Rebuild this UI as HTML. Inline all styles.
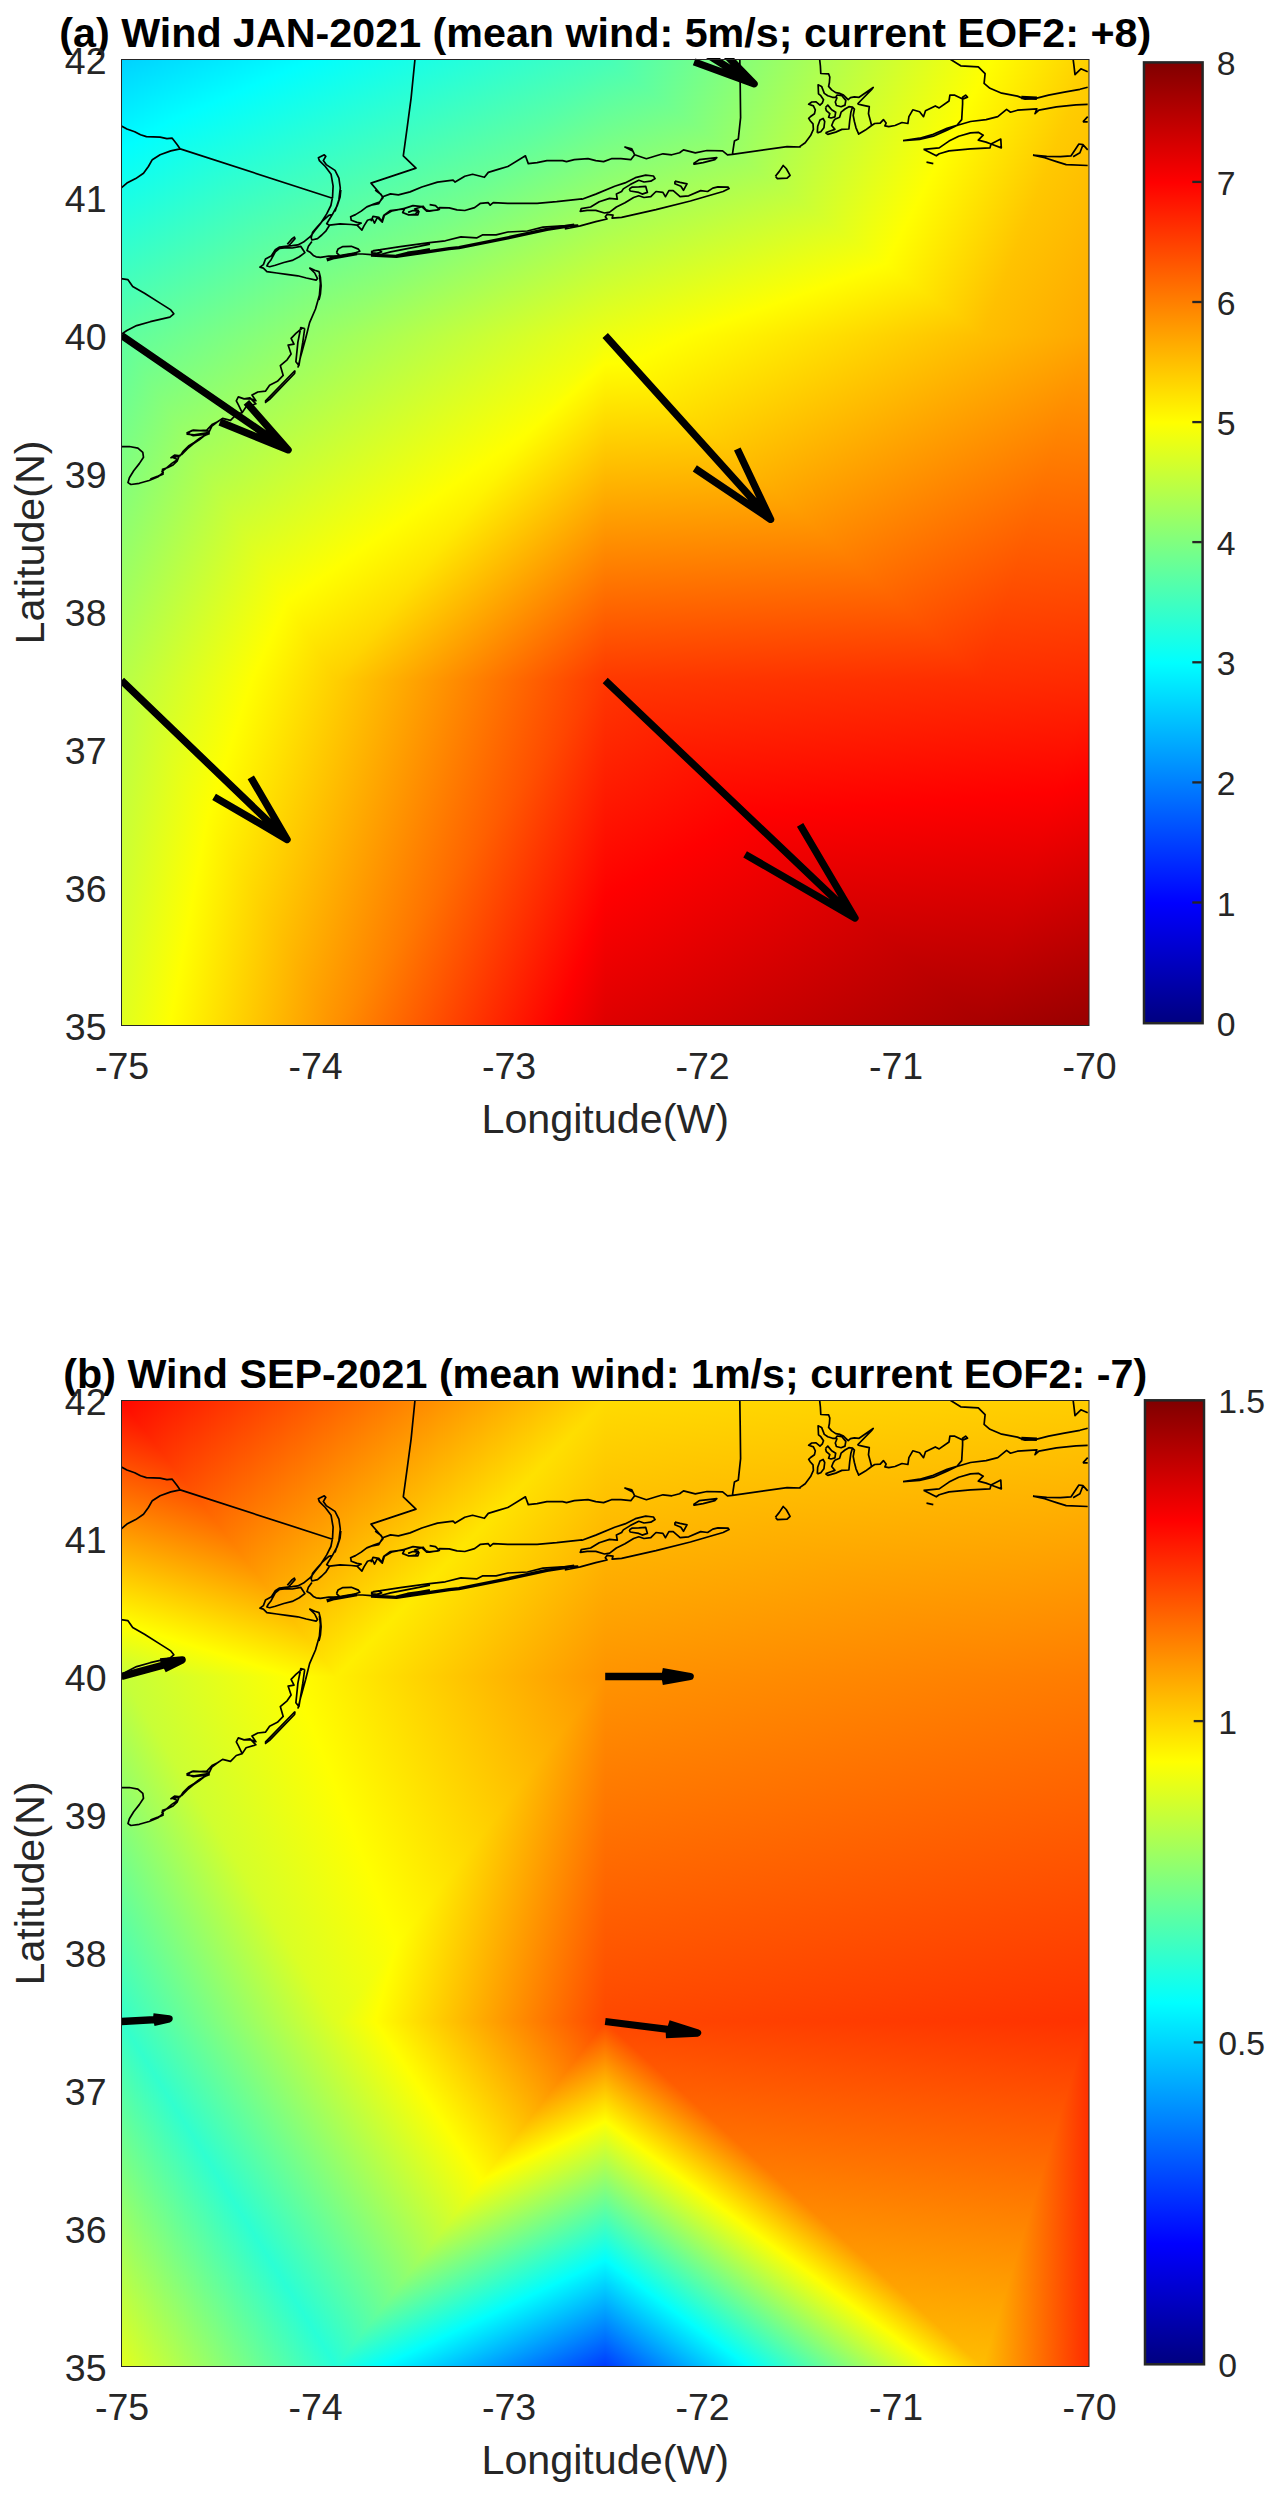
<!DOCTYPE html>
<html><head><meta charset="utf-8"><title>Wind</title>
<style>html,body{margin:0;padding:0;background:#fff}svg{display:block}text{font-family:"Liberation Sans",sans-serif;fill:#262626}</style></head>
<body><svg width="1279" height="2500" viewBox="0 0 1279 2500">
<defs><linearGradient id="jet"><stop offset="0" stop-color="#000080"/><stop offset="0.125" stop-color="#0000ff"/><stop offset="0.375" stop-color="#00ffff"/><stop offset="0.625" stop-color="#ffff00"/><stop offset="0.875" stop-color="#ff0000"/><stop offset="1" stop-color="#800000"/></linearGradient></defs>
<rect width="1279" height="2500" fill="#fff"/>
<defs><linearGradient id="a0" href="#jet" gradientUnits="userSpaceOnUse" x1="-742.2" y1="741.3" x2="750.2" y2="1011.3"/>
<linearGradient id="a1" href="#jet" gradientUnits="userSpaceOnUse" x1="-806.4" y1="451.6" x2="834.5" y2="978.5"/>
<linearGradient id="a2" href="#jet" gradientUnits="userSpaceOnUse" x1="-791.3" y1="404.6" x2="849.6" y2="931.5"/>
<linearGradient id="a3" href="#jet" gradientUnits="userSpaceOnUse" x1="-582.5" y1="483.1" x2="756.0" y2="1004.1"/>
<linearGradient id="a4" href="#jet" gradientUnits="userSpaceOnUse" x1="-787.7" y1="-1783.2" x2="906.4" y2="1221.5"/>
<linearGradient id="a5" href="#jet" gradientUnits="userSpaceOnUse" x1="691.0" y1="-1494.6" x2="881.4" y2="1135.0"/>
<linearGradient id="a6" href="#jet" gradientUnits="userSpaceOnUse" x1="851.4" y1="-1506.2" x2="1041.8" y2="1123.4"/>
<linearGradient id="a7" href="#jet" gradientUnits="userSpaceOnUse" x1="366.6" y1="-1085.9" x2="1110.1" y2="1075.0"/>
<linearGradient id="a8" href="#jet" gradientUnits="userSpaceOnUse" x1="-652.4" y1="180.7" x2="847.0" y2="863.1"/>
<linearGradient id="a9" href="#jet" gradientUnits="userSpaceOnUse" x1="-368.5" y1="-446.4" x2="770.6" y2="1167.1"/>
<linearGradient id="a10" href="#jet" gradientUnits="userSpaceOnUse" x1="-260.9" y1="-522.4" x2="878.2" y2="1091.1"/>
<linearGradient id="a11" href="#jet" gradientUnits="userSpaceOnUse" x1="-48.6" y1="-64.3" x2="757.3" y2="835.3"/>
<linearGradient id="a12" href="#jet" gradientUnits="userSpaceOnUse" x1="676.9" y1="-653.2" x2="748.8" y2="965.2"/>
<linearGradient id="a13" href="#jet" gradientUnits="userSpaceOnUse" x1="153.3" y1="-903.7" x2="1145.5" y2="1006.1"/>
<linearGradient id="a14" href="#jet" gradientUnits="userSpaceOnUse" x1="280.3" y1="-969.6" x2="1272.5" y2="940.2"/>
<linearGradient id="a15" href="#jet" gradientUnits="userSpaceOnUse" x1="882.1" y1="-1654.0" x2="1098.5" y2="1148.5"/>
<linearGradient id="a16" href="#jet" gradientUnits="userSpaceOnUse" x1="-200.9" y1="-420.9" x2="690.3" y2="1081.8"/>
<linearGradient id="a17" href="#jet" gradientUnits="userSpaceOnUse" x1="-12.7" y1="-495.7" x2="658.4" y2="1070.0"/>
<linearGradient id="a18" href="#jet" gradientUnits="userSpaceOnUse" x1="123.5" y1="-554.1" x2="794.6" y2="1011.6"/>
<linearGradient id="a19" href="#jet" gradientUnits="userSpaceOnUse" x1="169.2" y1="-466.9" x2="827.2" y2="882.4"/>
<linearGradient id="a20" href="#jet" gradientUnits="userSpaceOnUse" x1="424.0" y1="-614.7" x2="953.7" y2="866.0"/>
<linearGradient id="a21" href="#jet" gradientUnits="userSpaceOnUse" x1="-116.3" y1="-353.9" x2="1550.1" y2="511.6"/>
<linearGradient id="a22" href="#jet" gradientUnits="userSpaceOnUse" x1="-82.1" y1="-419.9" x2="1584.4" y2="445.6"/>
<linearGradient id="a23" href="#jet" gradientUnits="userSpaceOnUse" x1="-1148.6" y1="-1255.7" x2="2041.2" y2="915.9"/><clipPath id="ca"><rect x="121.5" y="59.5" width="967.5" height="966.0"/></clipPath></defs>
<g clip-path="url(#ca)"><rect x="121.5" y="59.5" width="967.5" height="966.0" fill="#ffa000"/><g shape-rendering="crispEdges"><polygon points="121.3,679.8 121.1,1026.1 336.8,1025.9" fill="url(#a0)"/>
<polygon points="121.0,680.1 336.5,1026.2 336.7,679.9" fill="url(#a1)"/>
<polygon points="605.8,680.1 335.9,679.9 336.0,1026.2" fill="url(#a2)"/>
<polygon points="605.5,679.8 335.7,1025.9 605.7,1026.1" fill="url(#a3)"/>
<polygon points="604.9,679.9 604.7,1026.0 983.2,1025.8" fill="url(#a4)"/>
<polygon points="604.6,680.2 982.9,1026.1 983.1,680.0" fill="url(#a5)"/>
<polygon points="1089.4,679.9 982.4,679.8 982.5,1026.2" fill="url(#a6)"/>
<polygon points="1089.1,679.8 982.2,1026.1 1089.2,1026.2" fill="url(#a7)"/>
<polygon points="121.3,334.8 121.1,681.1 336.8,680.9" fill="url(#a8)"/>
<polygon points="121.0,335.1 336.5,681.2 336.7,334.9" fill="url(#a9)"/>
<polygon points="605.8,335.1 335.9,334.9 336.0,681.2" fill="url(#a10)"/>
<polygon points="605.5,334.8 335.7,680.9 605.7,681.1" fill="url(#a11)"/>
<polygon points="604.9,334.9 604.7,681.0 983.2,680.8" fill="url(#a12)"/>
<polygon points="604.6,335.2 982.9,681.1 983.1,335.0" fill="url(#a13)"/>
<polygon points="1089.4,334.9 982.4,334.8 982.5,681.2" fill="url(#a14)"/>
<polygon points="1089.1,334.8 982.2,681.1 1089.2,681.2" fill="url(#a15)"/>
<polygon points="121.2,58.8 121.1,336.1 336.9,335.9" fill="url(#a16)"/>
<polygon points="120.9,59.1 336.6,336.2 336.7,58.9" fill="url(#a17)"/>
<polygon points="605.9,59.2 335.8,59.0 336.0,336.1" fill="url(#a18)"/>
<polygon points="605.6,58.9 335.7,335.8 605.7,336.0" fill="url(#a19)"/>
<polygon points="604.9,58.9 604.7,335.9 983.3,335.7" fill="url(#a20)"/>
<polygon points="604.6,59.3 983.0,336.1 983.2,59.1" fill="url(#a21)"/>
<polygon points="1089.4,58.9 982.3,58.8 982.5,336.2" fill="url(#a22)"/>
<polygon points="1089.1,58.8 982.2,336.1 1089.3,336.2" fill="url(#a23)"/></g>
<g fill="none" stroke="#000" stroke-width="1.7" stroke-linejoin="round"><path d="M121.0 125.8L126.9 129.0L134.7 131.7L140.5 134.8L146.4 136.6L160.1 137.2L166.9 138.7L172.2 138.2L176.7 144.0L180.2 148.9M180.2 148.9L170.8 150.9L160.1 154.8L152.3 159.7L148.4 166.5L143.5 173.3L135.7 178.6L126.9 183.1L121.0 188.0M180.2 148.9L332.5 198.2M332.5 198.2L333.1 186.1L331.1 174.3L325.3 166.5L319.4 160.6L318.4 157.7L324.3 154.8L325.8 156.3L323.3 160.6L326.2 164.6L335.0 170.4L338.9 178.2L340.3 188.0L338.9 199.7L335.0 211.5M332.3 198.4L330.9 205.5L326.7 213.9L320.4 223.8L314.7 230.8L310.5 236.4L303.5 242.1L297.8 244.9L292.2 245.6L285.2 246.3L279.6 247.0L275.3 249.8L271.1 256.1L265.5 259.0L263.4 264.6L259.9 267.1L263.4 268.1L266.9 271.6L276.7 273.0L286.6 274.4L297.8 275.8L306.3 278.0L316.1 280.1L317.5 278.7L314.7 273.0L309.8 268.1L314.7 270.2L319.0 271.6L320.4 277.3L321.1 285.7L320.4 294.1L319.0 300.0M340.8 190.0L340.1 197.0L337.3 205.5L332.3 214.6L328.8 220.3L326.7 223.8L329.5 225.2L326.0 230.8L321.8 235.0L317.5 238.6L311.9 240.0L311.2 237.8L312.6 232.2L317.5 226.6L323.2 220.3L328.8 215.3L332.3 214.6M329.5 225.2L340.1 223.8L351.3 224.5L357.0 225.2L361.9 230.1L364.0 225.9L367.5 220.3L372.4 218.8L374.5 223.1L377.4 217.4L382.3 222.1L384.4 215.3L392.1 210.8L404.8 208.3L402.7 212.5L409.0 215.0L415.4 214.2L418.2 210.4L414.6 209.0L423.1 206.2L425.9 209.7L430.0 211.1M268.3 263.2L271.1 259.7L275.3 251.9L279.6 248.4L286.6 247.7L292.2 248.0L300.7 246.3L303.5 250.5L304.9 252.6L299.3 256.8L292.2 260.4L283.8 262.5L275.3 265.3L269.7 266.7L266.9 266.0L268.3 263.2M287.3 244.2L292.2 238.6L294.3 237.1L295.0 238.6L290.8 243.5L288.7 245.6M311.9 241.4L308.4 246.3L307.0 250.5L310.5 252.6L313.3 255.4L316.1 256.8L320.4 257.3L328.8 256.1L340.1 256.1L351.3 254.0L362.6 254.0L371.0 254.7L382.3 254.0L390.7 251.9L404.8 249.1L418.9 246.3L430.0 244.2M336.5 252.6L338.0 249.1L342.9 246.6L351.3 246.3L358.4 249.1L359.8 251.2L354.1 253.3L345.7 255.4L340.1 256.1L336.5 252.6M371.0 252.6L373.8 250.5L378.8 249.8L381.6 251.9L376.7 253.3L371.0 252.6M357.0 225.2L361.2 223.1L357.0 222.4L351.3 220.3L350.6 216.7L355.5 214.6L361.2 211.1L366.8 206.9L373.8 204.1L379.5 202.0L383.0 197.7L380.9 194.2L376.7 191.4L375.2 190.0M415.0 59.0L411.1 98.1L407.2 127.4L403.3 155.8L416.0 168.1L371.0 183.1L382.7 196.8L378.8 203.6L371.0 205.2M382.7 196.8L390.5 193.9L398.4 194.8L410.1 191.9L421.8 187.0L437.5 182.1L453.1 180.2L455.1 182.1L464.8 176.3L472.6 174.3L484.4 177.3L488.3 172.4L498.1 169.4L507.8 166.5L525.4 155.8L528.3 163.6L537.1 162.6L546.9 160.6L562.6 160.6L566.5 161.6L574.3 159.7L588.0 158.7L595.8 160.6L603.6 161.6L611.4 158.7L621.0 158.7M371.0 221.2L373.0 216.3L378.8 217.3L381.8 221.2L383.7 215.4L390.5 210.5L402.3 209.1L413.0 205.6L421.8 206.6L426.7 211.1L438.4 209.9L439.4 207.6L449.2 207.9L457.0 209.9L464.8 210.5L474.6 207.6L480.5 203.3L488.3 202.7L490.2 205.2L493.2 202.7L507.8 203.3L537.1 203.3L556.7 201.7L582.1 198.8M402.3 212.4L408.1 214.8L417.9 214.8L418.9 211.5L413.0 210.5L408.1 212.4M429.6 204.6L435.5 205.6L439.4 209.5L429.6 211.1M371.0 251.5L380.8 249.6L400.3 246.6L429.6 242.7L445.3 240.8L460.9 236.9L476.6 237.9L482.4 234.9L496.1 234.9L507.8 232.0L527.4 231.0L543.0 227.1L558.6 226.1L578.2 225.1M621.0 158.7L630.8 159.7L634.7 154.8L631.8 148.9L624.9 147.0L632.7 150.9L634.7 154.8L640.5 156.7L646.4 158.7L656.2 155.8L663.0 153.8L671.8 154.8L679.6 152.8L683.5 149.9L695.3 152.8L707.0 150.5L722.6 150.9L727.5 154.8L732.4 154.4L734.4 141.1L738.3 139.1L740.6 117.6L740.2 84.4L739.8 59.0M732.4 154.4L787.1 146.6L800.8 147.0M819.6 59.0L820.4 66.0L820.8 73.5L828.6 73.9L829.8 77.0L829.4 82.5L828.6 86.4L831.7 89.9L835.7 92.6L840.0 93.4L843.5 95.0L846.6 98.1L848.2 99.7L850.5 97.7L854.4 96.9L859.1 97.3L873.2 87.5L872.0 89.1L857.5 104.0M799.7 146.6L805.2 142.7L810.6 135.6L813.4 129.4L813.0 123.9L810.2 120.8L808.7 118.4L810.6 116.5L814.5 113.7L815.3 109.8L813.4 105.9L808.7 104.3L811.8 102.0L816.1 101.8L820.0 105.1L822.4 102.8L823.5 99.7L820.8 95.7L818.5 93.8L818.1 84.8L821.6 86.4L824.3 93.4L827.8 95.7L832.5 97.3L835.7 97.3L837.2 95.0L841.9 95.7L845.8 100.4L845.0 105.1L841.1 106.7L836.4 105.5L835.3 102.0L837.2 97.3M825.5 107.5L827.8 105.1L831.7 109.8L835.7 112.2L834.9 116.9L831.0 118.0L828.6 117.2L829.8 113.7L826.3 110.6L825.5 107.5M817.3 132.9L817.7 126.2L820.0 120.0L823.1 118.4L824.7 121.5L823.9 127.8L820.8 131.7L817.3 132.9M825.5 132.9L827.8 134.4L835.7 132.1L841.9 129.4L848.9 129.0L849.7 120.8L850.9 112.2L852.5 107.1L848.9 106.7L845.0 109.0L841.1 112.2L839.6 117.2L834.9 119.2L833.3 121.5L831.7 125.5L834.9 129.4L829.4 131.3L825.5 132.9M852.5 107.1L854.4 109.0L853.2 115.3L854.4 121.5L856.0 127.8L858.7 134.1L865.4 130.1L871.6 125.5L870.4 120.8L868.5 113.7L869.3 106.7L862.2 105.1L857.5 104.0M871.6 125.5L874.7 123.5L880.2 123.1L883.4 119.6L886.1 123.1L884.9 125.8L888.8 126.6L895.0 125.5M693.3 163.6L699.2 159.7L716.8 157.7L714.8 159.7L703.1 162.6L694.3 164.2L693.3 163.6M775.4 176.3L779.3 171.4L783.2 165.5L786.2 168.5L790.1 175.3L787.1 178.2L777.4 178.6L775.4 176.3M582.0 199.2L595.8 194.1L614.7 186.3L625.0 182.9L635.4 177.7L645.7 175.2L653.4 176.0L655.1 178.6L650.8 181.2L644.0 182.0L638.8 180.3L630.2 184.6L623.3 188.9L621.6 191.5L616.4 194.1L617.3 199.2L609.6 198.4L599.2 201.8L590.6 207.0L581.2 208.7L580.3 211.3L587.2 210.4L595.8 210.4L604.4 213.0L609.6 212.1L616.4 207.0L625.0 202.7L633.6 197.5L638.8 195.8L644.0 197.5L650.8 196.7L656.0 191.5L662.9 192.4L665.5 196.7L668.9 190.6L673.2 190.6L680.1 196.7L688.7 195.8L700.7 190.6L707.6 191.5L712.8 188.1L717.9 186.9L728.2 187.2L729.1 188.6L723.1 191.5L690.4 201.0L656.0 209.6L621.6 217.3L612.1 218.2L613.0 215.1L607.0 214.4L605.3 216.8L607.0 219.0L595.8 221.6L580.3 225.9L570.0 228.0L564.8 228.8M629.3 188.9L631.9 187.2L638.8 186.9L645.7 186.3L647.4 192.4L642.2 194.1L638.8 192.4L630.2 191.0L629.3 188.9M674.9 181.2L680.1 182.4L687.0 183.8L685.2 187.2L683.5 190.3L680.9 186.3L674.9 183.8L674.9 181.2M895.0 125.5L902.0 122.5L907.9 123.5L908.9 116.7L912.8 109.8L919.6 111.8L923.5 116.7L925.5 110.8L935.3 105.9L939.2 107.9L949.0 101.0L949.9 95.2L954.8 95.2L962.6 99.1L967.5 97.1L965.6 95.2L962.6 97.1L962.6 104.0L961.7 119.6L956.8 125.5L970.5 121.5L986.1 119.6L997.8 116.7L1006.6 109.4L1010.5 112.2L1017.4 110.2L1036.9 108.8L1035.0 113.7L1038.9 110.2L1056.5 106.9L1076.0 104.9L1087.7 104.3M949.9 59.0L960.7 65.8L978.3 66.8L985.1 73.7L984.1 83.4L990.0 88.3L1001.7 93.2L1017.4 96.1L1025.2 99.1L1036.9 98.1L1048.6 95.2L1064.3 92.2L1079.9 89.3L1087.7 87.3M1073.1 59.0L1074.1 66.8L1075.0 74.6L1080.9 68.8L1087.7 71.7M903.0 140.7L919.6 138.2L933.3 134.3L947.0 128.4L957.8 125.1L947.0 130.3L933.3 136.2L919.6 139.5L903.0 140.7M923.5 149.3L936.3 155.8L939.2 153.8L949.0 150.9L970.5 148.9L990.0 147.9L991.0 144.0L986.1 142.1L978.3 140.1L983.2 135.2L978.3 132.3L970.5 132.9L958.7 136.2L949.0 141.1L939.2 147.9L923.5 149.3M991.0 144.0L1000.8 139.1L1001.3 147.9L991.0 144.0M926.5 162.2L933.3 163.6M1033.0 155.2L1044.7 157.7L1056.5 161.6L1066.2 164.6L1087.7 165.5M1033.0 155.2L1046.7 156.3L1060.4 156.7L1071.1 155.8L1078.9 144.0L1082.9 144.6L1087.7 149.9M1073.1 156.7L1079.9 152.8L1082.9 145.0M1082.9 121.9L1087.7 116.7M1082.9 121.9L1087.7 121.9M121.0 278.7L127.8 279.6L132.7 286.5L144.5 293.3L160.1 303.1L170.8 309.9L173.8 313.8L169.9 317.2L150.3 321.7L136.6 325.6L126.9 330.5L121.0 334.4M319.4 274.8L320.4 283.5L319.4 295.3L315.5 309.0L309.6 322.6L305.7 338.3L300.8 355.9L297.9 367.6M304.7 328.5L300.8 327.5L297.9 342.2L295.9 361.7L298.9 365.6L302.8 342.2L304.7 328.5M301.8 328.5L295.9 333.4L291.1 338.3L294.0 344.1L288.1 345.1L291.1 353.9L287.1 359.8L280.3 365.6L283.2 375.4L277.4 381.3L269.6 385.2L265.6 391.1L257.8 392.0L252.0 395.0L255.9 400.8L251.0 398.9L244.1 398.9L238.3 396.9L236.3 400.8L238.3 404.7L242.2 412.6L236.3 414.5L230.5 420.4L222.6 418.4L216.8 422.3L211.9 426.2L209.0 432.1L205.1 435.0L199.2 439.9L193.3 443.8L187.5 448.7L181.6 454.6L177.7 456.5L172.8 457.5L177.7 459.5L171.8 463.4L166.0 468.3L162.0 471.2L163.0 474.1L158.1 476.1L150.3 479.0M295.0 370.5L265.6 400.8L265.6 402.4L269.6 399.3L294.6 373.5L295.0 370.5M186.5 433.1L193.3 430.1L209.0 431.1L207.0 434.1L193.3 435.6L186.5 433.1M244.1 398.9L250.0 397.9L255.9 403.8L246.1 406.7L242.2 412.6M121.0 446.7L129.4 446.5L137.9 448.1L142.8 452.4L143.5 457.3L139.3 463.6L133.7 470.7L129.4 477.7L128.0 482.6L130.9 484.5L139.3 483.3L149.1 480.5L157.6 477.0L163.2 472.8L162.5 469.3L167.4 467.8L173.1 465.0L177.3 460.8L178.7 457.3L176.6 455.9L171.0 457.7L174.5 455.2L180.1 455.9L182.9 451.7L188.5 446.0L194.2 442.5L199.8 438.3L205.4 435.2L209.7 433.4M209.7 433.4L208.3 432.7L194.2 434.8L187.1 434.1L191.4 430.6L199.8 430.6L206.8 430.1L212.5 424.2L218.1 421.4"/><path d="M326.7 259.9L334.4 257.5L348.5 255.0L357.0 253.6M396.4 256.1L407.6 253.3L418.9 251.6L430.0 249.8M371.0 255.1L396.4 256.4L449.2 248.6L459.0 247.6L507.8 237.9L546.9 229.4L574.3 225.1M1021.3 97.5L1036.9 98.3" stroke-width="3.4"/></g>
</g>
<defs><clipPath id="ka"><rect x="121.5" y="57.9" width="967.5" height="967.6"/></clipPath></defs>
<g clip-path="url(#ka)" fill="none" stroke="#000" stroke-width="7.3" stroke-linejoin="round"><path d="M121.5 335.5L288.1 449.9M246.4 402.3L288.1 449.9L219.9 422.0"/><path d="M605.2 335.5L770.6 519.4M737.3 449.0L770.6 519.4L694.8 468.4"/><path d="M121.5 680.5L287.1 839.5M250.8 777.3L287.1 839.5L214.1 796.8"/><path d="M605.2 680.5L855.0 918.0M800.1 824.9L855.0 918.0L745.1 854.3"/><path d="M605.2 -9.5L754.1 83.9M715.8 44.3L754.1 83.9L694.1 61.9"/></g>
<rect x="121.5" y="59.5" width="967.5" height="966.0" fill="none" stroke="#262626" stroke-width="1"/>
<text x="605.25" y="47.4" text-anchor="middle" font-weight="bold" font-size="41.25" style="fill:#000">(a) Wind JAN-2021 (mean wind: 5m/s; current EOF2: +8)</text>
<text x="106.5" y="1039.6" text-anchor="end" font-size="37.5">35</text>
<text x="106.5" y="901.6" text-anchor="end" font-size="37.5">36</text>
<text x="106.5" y="763.6" text-anchor="end" font-size="37.5">37</text>
<text x="106.5" y="625.6" text-anchor="end" font-size="37.5">38</text>
<text x="106.5" y="487.6" text-anchor="end" font-size="37.5">39</text>
<text x="106.5" y="349.6" text-anchor="end" font-size="37.5">40</text>
<text x="106.5" y="211.6" text-anchor="end" font-size="37.5">41</text>
<text x="106.5" y="73.6" text-anchor="end" font-size="37.5">42</text>
<text x="122.0" y="1078.7" text-anchor="middle" font-size="37.5">-75</text>
<text x="315.5" y="1078.7" text-anchor="middle" font-size="37.5">-74</text>
<text x="509.0" y="1078.7" text-anchor="middle" font-size="37.5">-73</text>
<text x="702.5" y="1078.7" text-anchor="middle" font-size="37.5">-72</text>
<text x="896.0" y="1078.7" text-anchor="middle" font-size="37.5">-71</text>
<text x="1089.5" y="1078.7" text-anchor="middle" font-size="37.5">-70</text>
<text x="605.25" y="1133.3" text-anchor="middle" font-size="41.25">Longitude(W)</text>
<text transform="translate(44.2 542.5) rotate(-90)" text-anchor="middle" font-size="41.25">Latitude(N)</text>
<rect x="1144.0" y="62.4" width="58.6" height="960.8" fill="url(#jetva)" stroke="#262626" stroke-width="2.5"/>
<defs><linearGradient id="jetva" href="#jet" gradientUnits="userSpaceOnUse" x1="0" y1="1023.2" x2="0" y2="62.4"/></defs>
<text x="1216.8" y="1035.5" font-size="33.75">0</text>
<line x1="1192.3" y1="902.5" x2="1201.8" y2="902.5" stroke="#262626" stroke-width="2.3"/>
<text x="1216.8" y="915.5" font-size="33.75">1</text>
<line x1="1192.3" y1="782.4" x2="1201.8" y2="782.4" stroke="#262626" stroke-width="2.3"/>
<text x="1216.8" y="795.4" font-size="33.75">2</text>
<line x1="1192.3" y1="662.3" x2="1201.8" y2="662.3" stroke="#262626" stroke-width="2.3"/>
<text x="1216.8" y="675.3" font-size="33.75">3</text>
<line x1="1192.3" y1="542.1" x2="1201.8" y2="542.1" stroke="#262626" stroke-width="2.3"/>
<text x="1216.8" y="555.1" font-size="33.75">4</text>
<line x1="1192.3" y1="422.1" x2="1201.8" y2="422.1" stroke="#262626" stroke-width="2.3"/>
<text x="1216.8" y="435.1" font-size="33.75">5</text>
<line x1="1192.3" y1="302.0" x2="1201.8" y2="302.0" stroke="#262626" stroke-width="2.3"/>
<text x="1216.8" y="315.0" font-size="33.75">6</text>
<line x1="1192.3" y1="181.9" x2="1201.8" y2="181.9" stroke="#262626" stroke-width="2.3"/>
<text x="1216.8" y="194.9" font-size="33.75">7</text>
<text x="1216.8" y="74.8" font-size="33.75">8</text>
<defs><linearGradient id="b0" href="#jet" gradientUnits="userSpaceOnUse" x1="611.3" y1="2009.2" x2="-262.1" y2="2515.2"/>
<linearGradient id="b1" href="#jet" gradientUnits="userSpaceOnUse" x1="-156.0" y1="2418.3" x2="724.3" y2="1828.6"/>
<linearGradient id="b2" href="#jet" gradientUnits="userSpaceOnUse" x1="-106.0" y1="2492.9" x2="774.2" y2="1903.2"/>
<linearGradient id="b3" href="#jet" gradientUnits="userSpaceOnUse" x1="615.9" y1="2462.7" x2="401.2" y2="2010.6"/>
<linearGradient id="b4" href="#jet" gradientUnits="userSpaceOnUse" x1="582.7" y1="2450.9" x2="848.0" y2="2094.2"/>
<linearGradient id="b5" href="#jet" gradientUnits="userSpaceOnUse" x1="630.0" y1="4116.6" x2="923.8" y2="1552.2"/>
<linearGradient id="b6" href="#jet" gradientUnits="userSpaceOnUse" x1="789.1" y1="4134.8" x2="1082.9" y2="1570.5"/>
<linearGradient id="b7" href="#jet" gradientUnits="userSpaceOnUse" x1="470.6" y1="2244.8" x2="1215.5" y2="2253.4"/>
<linearGradient id="b8" href="#jet" gradientUnits="userSpaceOnUse" x1="-337.1" y1="2183.5" x2="664.7" y2="1660.1"/>
<linearGradient id="b9" href="#jet" gradientUnits="userSpaceOnUse" x1="-1279.2" y1="2393.5" x2="1291.6" y2="1391.1"/>
<linearGradient id="b10" href="#jet" gradientUnits="userSpaceOnUse" x1="-1257.9" y1="2448.1" x2="1312.9" y2="1445.6"/>
<linearGradient id="b11" href="#jet" gradientUnits="userSpaceOnUse" x1="-325.9" y1="1674.2" x2="859.1" y2="2001.3"/>
<linearGradient id="b12" href="#jet" gradientUnits="userSpaceOnUse" x1="20.5" y1="-1580.4" x2="924.5" y2="2855.9"/>
<linearGradient id="b13" href="#jet" gradientUnits="userSpaceOnUse" x1="104.0" y1="-1637.2" x2="1085.5" y2="2833.1"/>
<linearGradient id="b14" href="#jet" gradientUnits="userSpaceOnUse" x1="257.8" y1="-1671.0" x2="1239.3" y2="2799.3"/>
<linearGradient id="b15" href="#jet" gradientUnits="userSpaceOnUse" x1="304.3" y1="-1704.8" x2="1240.1" y2="2805.6"/>
<linearGradient id="b16" href="#jet" gradientUnits="userSpaceOnUse" x1="14.2" y1="2163.0" x2="272.7" y2="1327.0"/>
<linearGradient id="b17" href="#jet" gradientUnits="userSpaceOnUse" x1="1029.6" y1="2367.3" x2="25.1" y2="1218.5"/>
<linearGradient id="b18" href="#jet" gradientUnits="userSpaceOnUse" x1="1121.0" y1="2287.4" x2="116.5" y2="1138.6"/>
<linearGradient id="b19" href="#jet" gradientUnits="userSpaceOnUse" x1="-757.1" y1="619.4" x2="1123.3" y2="2045.3"/>
<linearGradient id="b20" href="#jet" gradientUnits="userSpaceOnUse" x1="237.9" y1="-1110.0" x2="929.5" y2="2669.1"/>
<linearGradient id="b21" href="#jet" gradientUnits="userSpaceOnUse" x1="619.6" y1="-937.9" x2="961.9" y2="2569.6"/>
<linearGradient id="b22" href="#jet" gradientUnits="userSpaceOnUse" x1="779.4" y1="-953.5" x2="1121.7" y2="2554.0"/>
<linearGradient id="b23" href="#jet" gradientUnits="userSpaceOnUse" x1="659.5" y1="-853.1" x2="1203.0" y2="2509.1"/><clipPath id="cb"><rect x="121.5" y="1400.5" width="967.5" height="966.0"/></clipPath></defs>
<g clip-path="url(#cb)"><rect x="121.5" y="1400.5" width="967.5" height="966.0" fill="#ffa000"/><g shape-rendering="crispEdges"><polygon points="121.3,2020.8 121.1,2367.1 336.8,2366.9" fill="url(#b0)"/>
<polygon points="121.0,2021.1 336.5,2367.2 336.7,2020.9" fill="url(#b1)"/>
<polygon points="605.8,2021.1 335.9,2020.9 336.0,2367.2" fill="url(#b2)"/>
<polygon points="605.5,2020.8 335.7,2366.9 605.7,2367.1" fill="url(#b3)"/>
<polygon points="604.9,2020.9 604.7,2367.0 983.2,2366.8" fill="url(#b4)"/>
<polygon points="604.6,2021.2 982.9,2367.1 983.1,2021.0" fill="url(#b5)"/>
<polygon points="1089.4,2020.9 982.4,2020.8 982.5,2367.2" fill="url(#b6)"/>
<polygon points="1089.1,2020.8 982.2,2367.1 1089.2,2367.2" fill="url(#b7)"/>
<polygon points="121.3,1675.8 121.1,2022.1 336.8,2021.9" fill="url(#b8)"/>
<polygon points="121.0,1676.1 336.5,2022.2 336.7,1675.9" fill="url(#b9)"/>
<polygon points="605.8,1676.1 335.9,1675.9 336.0,2022.2" fill="url(#b10)"/>
<polygon points="605.5,1675.8 335.7,2021.9 605.7,2022.1" fill="url(#b11)"/>
<polygon points="604.9,1675.9 604.7,2022.0 983.2,2021.8" fill="url(#b12)"/>
<polygon points="604.6,1676.2 982.9,2022.1 983.1,1676.0" fill="url(#b13)"/>
<polygon points="1089.4,1675.9 982.4,1675.8 982.5,2022.2" fill="url(#b14)"/>
<polygon points="1089.1,1675.8 982.2,2022.1 1089.2,2022.2" fill="url(#b15)"/>
<polygon points="121.2,1399.8 121.1,1677.1 336.9,1676.9" fill="url(#b16)"/>
<polygon points="120.9,1400.1 336.6,1677.2 336.7,1399.9" fill="url(#b17)"/>
<polygon points="605.9,1400.2 335.8,1400.0 336.0,1677.1" fill="url(#b18)"/>
<polygon points="605.6,1399.9 335.7,1676.8 605.7,1677.0" fill="url(#b19)"/>
<polygon points="604.9,1399.9 604.7,1676.9 983.3,1676.7" fill="url(#b20)"/>
<polygon points="604.6,1400.3 983.0,1677.1 983.2,1400.1" fill="url(#b21)"/>
<polygon points="1089.4,1399.9 982.3,1399.8 982.5,1677.2" fill="url(#b22)"/>
<polygon points="1089.1,1399.8 982.2,1677.1 1089.3,1677.2" fill="url(#b23)"/></g>
<g fill="none" stroke="#000" stroke-width="1.7" stroke-linejoin="round"><path d="M121.0 1466.8L126.9 1470.0L134.7 1472.7L140.5 1475.8L146.4 1477.6L160.1 1478.2L166.9 1479.7L172.2 1479.2L176.7 1485.0L180.2 1489.9M180.2 1489.9L170.8 1491.9L160.1 1495.8L152.3 1500.7L148.4 1507.5L143.5 1514.3L135.7 1519.6L126.9 1524.1L121.0 1529.0M180.2 1489.9L332.5 1539.2M332.5 1539.2L333.1 1527.1L331.1 1515.3L325.3 1507.5L319.4 1501.6L318.4 1498.7L324.3 1495.8L325.8 1497.3L323.3 1501.6L326.2 1505.6L335.0 1511.4L338.9 1519.2L340.3 1529.0L338.9 1540.7L335.0 1552.5M332.3 1539.4L330.9 1546.5L326.7 1554.9L320.4 1564.8L314.7 1571.8L310.5 1577.4L303.5 1583.1L297.8 1585.9L292.2 1586.6L285.2 1587.3L279.6 1588.0L275.3 1590.8L271.1 1597.1L265.5 1600.0L263.4 1605.6L259.9 1608.1L263.4 1609.1L266.9 1612.6L276.7 1614.0L286.6 1615.4L297.8 1616.8L306.3 1619.0L316.1 1621.1L317.5 1619.7L314.7 1614.0L309.8 1609.1L314.7 1611.2L319.0 1612.6L320.4 1618.3L321.1 1626.7L320.4 1635.1L319.0 1641.0M340.8 1531.0L340.1 1538.0L337.3 1546.5L332.3 1555.6L328.8 1561.3L326.7 1564.8L329.5 1566.2L326.0 1571.8L321.8 1576.0L317.5 1579.6L311.9 1581.0L311.2 1578.8L312.6 1573.2L317.5 1567.6L323.2 1561.3L328.8 1556.3L332.3 1555.6M329.5 1566.2L340.1 1564.8L351.3 1565.5L357.0 1566.2L361.9 1571.1L364.0 1566.9L367.5 1561.3L372.4 1559.8L374.5 1564.1L377.4 1558.4L382.3 1563.1L384.4 1556.3L392.1 1551.8L404.8 1549.3L402.7 1553.5L409.0 1556.0L415.4 1555.2L418.2 1551.4L414.6 1550.0L423.1 1547.2L425.9 1550.7L430.0 1552.1M268.3 1604.2L271.1 1600.7L275.3 1592.9L279.6 1589.4L286.6 1588.7L292.2 1589.0L300.7 1587.3L303.5 1591.5L304.9 1593.6L299.3 1597.8L292.2 1601.4L283.8 1603.5L275.3 1606.3L269.7 1607.7L266.9 1607.0L268.3 1604.2M287.3 1585.2L292.2 1579.6L294.3 1578.1L295.0 1579.6L290.8 1584.5L288.7 1586.6M311.9 1582.4L308.4 1587.3L307.0 1591.5L310.5 1593.6L313.3 1596.4L316.1 1597.8L320.4 1598.3L328.8 1597.1L340.1 1597.1L351.3 1595.0L362.6 1595.0L371.0 1595.7L382.3 1595.0L390.7 1592.9L404.8 1590.1L418.9 1587.3L430.0 1585.2M336.5 1593.6L338.0 1590.1L342.9 1587.6L351.3 1587.3L358.4 1590.1L359.8 1592.2L354.1 1594.3L345.7 1596.4L340.1 1597.1L336.5 1593.6M371.0 1593.6L373.8 1591.5L378.8 1590.8L381.6 1592.9L376.7 1594.3L371.0 1593.6M357.0 1566.2L361.2 1564.1L357.0 1563.4L351.3 1561.3L350.6 1557.7L355.5 1555.6L361.2 1552.1L366.8 1547.9L373.8 1545.1L379.5 1543.0L383.0 1538.7L380.9 1535.2L376.7 1532.4L375.2 1531.0M415.0 1400.0L411.1 1439.1L407.2 1468.4L403.3 1496.8L416.0 1509.1L371.0 1524.1L382.7 1537.8L378.8 1544.6L371.0 1546.2M382.7 1537.8L390.5 1534.9L398.4 1535.8L410.1 1532.9L421.8 1528.0L437.5 1523.1L453.1 1521.2L455.1 1523.1L464.8 1517.3L472.6 1515.3L484.4 1518.3L488.3 1513.4L498.1 1510.4L507.8 1507.5L525.4 1496.8L528.3 1504.6L537.1 1503.6L546.9 1501.6L562.6 1501.6L566.5 1502.6L574.3 1500.7L588.0 1499.7L595.8 1501.6L603.6 1502.6L611.4 1499.7L621.0 1499.7M371.0 1562.2L373.0 1557.3L378.8 1558.3L381.8 1562.2L383.7 1556.4L390.5 1551.5L402.3 1550.1L413.0 1546.6L421.8 1547.6L426.7 1552.1L438.4 1550.9L439.4 1548.6L449.2 1548.9L457.0 1550.9L464.8 1551.5L474.6 1548.6L480.5 1544.3L488.3 1543.7L490.2 1546.2L493.2 1543.7L507.8 1544.3L537.1 1544.3L556.7 1542.7L582.1 1539.8M402.3 1553.4L408.1 1555.8L417.9 1555.8L418.9 1552.5L413.0 1551.5L408.1 1553.4M429.6 1545.6L435.5 1546.6L439.4 1550.5L429.6 1552.1M371.0 1592.5L380.8 1590.6L400.3 1587.6L429.6 1583.7L445.3 1581.8L460.9 1577.9L476.6 1578.9L482.4 1575.9L496.1 1575.9L507.8 1573.0L527.4 1572.0L543.0 1568.1L558.6 1567.1L578.2 1566.1M621.0 1499.7L630.8 1500.7L634.7 1495.8L631.8 1489.9L624.9 1488.0L632.7 1491.9L634.7 1495.8L640.5 1497.7L646.4 1499.7L656.2 1496.8L663.0 1494.8L671.8 1495.8L679.6 1493.8L683.5 1490.9L695.3 1493.8L707.0 1491.5L722.6 1491.9L727.5 1495.8L732.4 1495.4L734.4 1482.1L738.3 1480.1L740.6 1458.6L740.2 1425.4L739.8 1400.0M732.4 1495.4L787.1 1487.6L800.8 1488.0M819.6 1400.0L820.4 1407.0L820.8 1414.5L828.6 1414.9L829.8 1418.0L829.4 1423.5L828.6 1427.4L831.7 1430.9L835.7 1433.6L840.0 1434.4L843.5 1436.0L846.6 1439.1L848.2 1440.7L850.5 1438.7L854.4 1437.9L859.1 1438.3L873.2 1428.5L872.0 1430.1L857.5 1445.0M799.7 1487.6L805.2 1483.7L810.6 1476.6L813.4 1470.4L813.0 1464.9L810.2 1461.8L808.7 1459.4L810.6 1457.5L814.5 1454.7L815.3 1450.8L813.4 1446.9L808.7 1445.3L811.8 1443.0L816.1 1442.8L820.0 1446.1L822.4 1443.8L823.5 1440.7L820.8 1436.7L818.5 1434.8L818.1 1425.8L821.6 1427.4L824.3 1434.4L827.8 1436.7L832.5 1438.3L835.7 1438.3L837.2 1436.0L841.9 1436.7L845.8 1441.4L845.0 1446.1L841.1 1447.7L836.4 1446.5L835.3 1443.0L837.2 1438.3M825.5 1448.5L827.8 1446.1L831.7 1450.8L835.7 1453.2L834.9 1457.9L831.0 1459.0L828.6 1458.2L829.8 1454.7L826.3 1451.6L825.5 1448.5M817.3 1473.9L817.7 1467.2L820.0 1461.0L823.1 1459.4L824.7 1462.5L823.9 1468.8L820.8 1472.7L817.3 1473.9M825.5 1473.9L827.8 1475.4L835.7 1473.1L841.9 1470.4L848.9 1470.0L849.7 1461.8L850.9 1453.2L852.5 1448.1L848.9 1447.7L845.0 1450.0L841.1 1453.2L839.6 1458.2L834.9 1460.2L833.3 1462.5L831.7 1466.5L834.9 1470.4L829.4 1472.3L825.5 1473.9M852.5 1448.1L854.4 1450.0L853.2 1456.3L854.4 1462.5L856.0 1468.8L858.7 1475.1L865.4 1471.1L871.6 1466.5L870.4 1461.8L868.5 1454.7L869.3 1447.7L862.2 1446.1L857.5 1445.0M871.6 1466.5L874.7 1464.5L880.2 1464.1L883.4 1460.6L886.1 1464.1L884.9 1466.8L888.8 1467.6L895.0 1466.5M693.3 1504.6L699.2 1500.7L716.8 1498.7L714.8 1500.7L703.1 1503.6L694.3 1505.2L693.3 1504.6M775.4 1517.3L779.3 1512.4L783.2 1506.5L786.2 1509.5L790.1 1516.3L787.1 1519.2L777.4 1519.6L775.4 1517.3M582.0 1540.2L595.8 1535.1L614.7 1527.3L625.0 1523.9L635.4 1518.7L645.7 1516.2L653.4 1517.0L655.1 1519.6L650.8 1522.2L644.0 1523.0L638.8 1521.3L630.2 1525.6L623.3 1529.9L621.6 1532.5L616.4 1535.1L617.3 1540.2L609.6 1539.4L599.2 1542.8L590.6 1548.0L581.2 1549.7L580.3 1552.3L587.2 1551.4L595.8 1551.4L604.4 1554.0L609.6 1553.1L616.4 1548.0L625.0 1543.7L633.6 1538.5L638.8 1536.8L644.0 1538.5L650.8 1537.7L656.0 1532.5L662.9 1533.4L665.5 1537.7L668.9 1531.6L673.2 1531.6L680.1 1537.7L688.7 1536.8L700.7 1531.6L707.6 1532.5L712.8 1529.1L717.9 1527.9L728.2 1528.2L729.1 1529.6L723.1 1532.5L690.4 1542.0L656.0 1550.6L621.6 1558.3L612.1 1559.2L613.0 1556.1L607.0 1555.4L605.3 1557.8L607.0 1560.0L595.8 1562.6L580.3 1566.9L570.0 1569.0L564.8 1569.8M629.3 1529.9L631.9 1528.2L638.8 1527.9L645.7 1527.3L647.4 1533.4L642.2 1535.1L638.8 1533.4L630.2 1532.0L629.3 1529.9M674.9 1522.2L680.1 1523.4L687.0 1524.8L685.2 1528.2L683.5 1531.3L680.9 1527.3L674.9 1524.8L674.9 1522.2M895.0 1466.5L902.0 1463.5L907.9 1464.5L908.9 1457.7L912.8 1450.8L919.6 1452.8L923.5 1457.7L925.5 1451.8L935.3 1446.9L939.2 1448.9L949.0 1442.0L949.9 1436.2L954.8 1436.2L962.6 1440.1L967.5 1438.1L965.6 1436.2L962.6 1438.1L962.6 1445.0L961.7 1460.6L956.8 1466.5L970.5 1462.5L986.1 1460.6L997.8 1457.7L1006.6 1450.4L1010.5 1453.2L1017.4 1451.2L1036.9 1449.8L1035.0 1454.7L1038.9 1451.2L1056.5 1447.9L1076.0 1445.9L1087.7 1445.3M949.9 1400.0L960.7 1406.8L978.3 1407.8L985.1 1414.7L984.1 1424.4L990.0 1429.3L1001.7 1434.2L1017.4 1437.1L1025.2 1440.1L1036.9 1439.1L1048.6 1436.2L1064.3 1433.2L1079.9 1430.3L1087.7 1428.3M1073.1 1400.0L1074.1 1407.8L1075.0 1415.6L1080.9 1409.8L1087.7 1412.7M903.0 1481.7L919.6 1479.2L933.3 1475.3L947.0 1469.4L957.8 1466.1L947.0 1471.3L933.3 1477.2L919.6 1480.5L903.0 1481.7M923.5 1490.3L936.3 1496.8L939.2 1494.8L949.0 1491.9L970.5 1489.9L990.0 1488.9L991.0 1485.0L986.1 1483.1L978.3 1481.1L983.2 1476.2L978.3 1473.3L970.5 1473.9L958.7 1477.2L949.0 1482.1L939.2 1488.9L923.5 1490.3M991.0 1485.0L1000.8 1480.1L1001.3 1488.9L991.0 1485.0M926.5 1503.2L933.3 1504.6M1033.0 1496.2L1044.7 1498.7L1056.5 1502.6L1066.2 1505.6L1087.7 1506.5M1033.0 1496.2L1046.7 1497.3L1060.4 1497.7L1071.1 1496.8L1078.9 1485.0L1082.9 1485.6L1087.7 1490.9M1073.1 1497.7L1079.9 1493.8L1082.9 1486.0M1082.9 1462.9L1087.7 1457.7M1082.9 1462.9L1087.7 1462.9M121.0 1619.7L127.8 1620.6L132.7 1627.5L144.5 1634.3L160.1 1644.1L170.8 1650.9L173.8 1654.8L169.9 1658.2L150.3 1662.7L136.6 1666.6L126.9 1671.5L121.0 1675.4M319.4 1615.8L320.4 1624.5L319.4 1636.3L315.5 1650.0L309.6 1663.6L305.7 1679.3L300.8 1696.9L297.9 1708.6M304.7 1669.5L300.8 1668.5L297.9 1683.2L295.9 1702.7L298.9 1706.6L302.8 1683.2L304.7 1669.5M301.8 1669.5L295.9 1674.4L291.1 1679.3L294.0 1685.1L288.1 1686.1L291.1 1694.9L287.1 1700.8L280.3 1706.6L283.2 1716.4L277.4 1722.3L269.6 1726.2L265.6 1732.1L257.8 1733.0L252.0 1736.0L255.9 1741.8L251.0 1739.9L244.1 1739.9L238.3 1737.9L236.3 1741.8L238.3 1745.7L242.2 1753.6L236.3 1755.5L230.5 1761.4L222.6 1759.4L216.8 1763.3L211.9 1767.2L209.0 1773.1L205.1 1776.0L199.2 1780.9L193.3 1784.8L187.5 1789.7L181.6 1795.6L177.7 1797.5L172.8 1798.5L177.7 1800.5L171.8 1804.4L166.0 1809.3L162.0 1812.2L163.0 1815.1L158.1 1817.1L150.3 1820.0M295.0 1711.5L265.6 1741.8L265.6 1743.4L269.6 1740.3L294.6 1714.5L295.0 1711.5M186.5 1774.1L193.3 1771.1L209.0 1772.1L207.0 1775.1L193.3 1776.6L186.5 1774.1M244.1 1739.9L250.0 1738.9L255.9 1744.8L246.1 1747.7L242.2 1753.6M121.0 1787.7L129.4 1787.5L137.9 1789.1L142.8 1793.4L143.5 1798.3L139.3 1804.6L133.7 1811.7L129.4 1818.7L128.0 1823.6L130.9 1825.5L139.3 1824.3L149.1 1821.5L157.6 1818.0L163.2 1813.8L162.5 1810.3L167.4 1808.8L173.1 1806.0L177.3 1801.8L178.7 1798.3L176.6 1796.9L171.0 1798.7L174.5 1796.2L180.1 1796.9L182.9 1792.7L188.5 1787.0L194.2 1783.5L199.8 1779.3L205.4 1776.2L209.7 1774.4M209.7 1774.4L208.3 1773.7L194.2 1775.8L187.1 1775.1L191.4 1771.6L199.8 1771.6L206.8 1771.1L212.5 1765.2L218.1 1762.4"/><path d="M326.7 1600.9L334.4 1598.5L348.5 1596.0L357.0 1594.6M396.4 1597.1L407.6 1594.3L418.9 1592.6L430.0 1590.8M371.0 1596.1L396.4 1597.4L449.2 1589.6L459.0 1588.6L507.8 1578.9L546.9 1570.4L574.3 1566.1M1021.3 1438.5L1036.9 1439.3" stroke-width="3.4"/></g>
</g>
<defs><clipPath id="kb"><rect x="121.5" y="1398.9" width="967.5" height="967.6"/></clipPath></defs>
<g clip-path="url(#kb)" fill="none" stroke="#000" stroke-width="7.3" stroke-linejoin="round"><path d="M121.5 1676.5L182.2 1660.0M160.3 1661.9L182.2 1660.0L164.1 1669.0"/><path d="M605.2 1676.5L690.2 1676.5M662.2 1671.5L690.2 1676.5L662.2 1681.5"/><path d="M121.5 2021.5L169.1 2018.9M153.1 2016.9L169.1 2018.9L153.7 2022.5"/><path d="M605.2 2021.5L697.6 2033.0M668.5 2023.8L697.6 2033.0L665.8 2034.6"/></g>
<rect x="121.5" y="1400.5" width="967.5" height="966.0" fill="none" stroke="#262626" stroke-width="1"/>
<text x="605.25" y="1387.6" text-anchor="middle" font-weight="bold" font-size="41.25" style="fill:#000">(b) Wind SEP-2021 (mean wind: 1m/s; current EOF2: -7)</text>
<text x="106.5" y="2380.6" text-anchor="end" font-size="37.5">35</text>
<text x="106.5" y="2242.6" text-anchor="end" font-size="37.5">36</text>
<text x="106.5" y="2104.6" text-anchor="end" font-size="37.5">37</text>
<text x="106.5" y="1966.6" text-anchor="end" font-size="37.5">38</text>
<text x="106.5" y="1828.6" text-anchor="end" font-size="37.5">39</text>
<text x="106.5" y="1690.6" text-anchor="end" font-size="37.5">40</text>
<text x="106.5" y="1552.6" text-anchor="end" font-size="37.5">41</text>
<text x="106.5" y="1414.6" text-anchor="end" font-size="37.5">42</text>
<text x="122.0" y="2419.7" text-anchor="middle" font-size="37.5">-75</text>
<text x="315.5" y="2419.7" text-anchor="middle" font-size="37.5">-74</text>
<text x="509.0" y="2419.7" text-anchor="middle" font-size="37.5">-73</text>
<text x="702.5" y="2419.7" text-anchor="middle" font-size="37.5">-72</text>
<text x="896.0" y="2419.7" text-anchor="middle" font-size="37.5">-71</text>
<text x="1089.5" y="2419.7" text-anchor="middle" font-size="37.5">-70</text>
<text x="605.25" y="2474.3" text-anchor="middle" font-size="41.25">Longitude(W)</text>
<text transform="translate(44.2 1883.5) rotate(-90)" text-anchor="middle" font-size="41.25">Latitude(N)</text>
<rect x="1145.0" y="1400.3" width="59.0" height="964.0" fill="url(#jetvb)" stroke="#262626" stroke-width="2.5"/>
<defs><linearGradient id="jetvb" href="#jet" gradientUnits="userSpaceOnUse" x1="0" y1="2364.3" x2="0" y2="1400.3"/></defs>
<text x="1218.2" y="2376.8" font-size="33.75">0</text>
<line x1="1193.7" y1="2042.4" x2="1203.2" y2="2042.4" stroke="#262626" stroke-width="2.3"/>
<text x="1218.2" y="2055.4" font-size="33.75">0.5</text>
<line x1="1193.7" y1="1721.1" x2="1203.2" y2="1721.1" stroke="#262626" stroke-width="2.3"/>
<text x="1218.2" y="1734.1" font-size="33.75">1</text>
<text x="1218.2" y="1412.8" font-size="33.75">1.5</text>
</svg></body></html>
